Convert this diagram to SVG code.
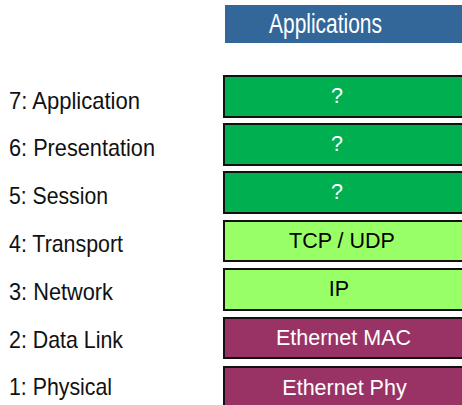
<svg xmlns="http://www.w3.org/2000/svg" width="462" height="405" viewBox="0 0 462 405">
<style>
.lbl{font-family:"Liberation Sans",Arial,sans-serif;font-size:24px;fill:#111}
.box{stroke:#111;stroke-width:2}
.bt{font-family:"Liberation Sans",Arial,sans-serif;font-size:21.5px;text-anchor:middle}
.g1{fill:#00b050}
.g2{fill:#99ff66}
.m{fill:#993366}
.w{fill:#fff}
.k{fill:#000}
</style>
<rect width="462" height="405" fill="#fff"/>
<g id="applications">
<rect x="225" y="5" width="240" height="38" fill="#336699"/>
<text x="269" y="33" font-family="Liberation Sans,Arial,sans-serif" font-size="27" fill="#fff" textLength="113" lengthAdjust="spacingAndGlyphs">Applications</text>
</g>
<g id="labels">
<text class="lbl" x="9" y="108.5" textLength="131" lengthAdjust="spacingAndGlyphs">7: Application</text>
<text class="lbl" x="9" y="156" textLength="146" lengthAdjust="spacingAndGlyphs">6: Presentation</text>
<text class="lbl" x="9" y="204" textLength="99" lengthAdjust="spacingAndGlyphs">5: Session</text>
<text class="lbl" x="9" y="252" textLength="114" lengthAdjust="spacingAndGlyphs">4: Transport</text>
<text class="lbl" x="9" y="300" textLength="104" lengthAdjust="spacingAndGlyphs">3: Network</text>
<text class="lbl" x="9" y="348" textLength="114" lengthAdjust="spacingAndGlyphs">2: Data Link</text>
<text class="lbl" x="9" y="395" textLength="103" lengthAdjust="spacingAndGlyphs">1: Physical</text>
</g>
<g id="layer7"><rect class="box g1" x="224" y="76" width="250" height="41"/><text class="bt w" x="337" y="103" font-size="19">?</text></g>
<g id="layer6"><rect class="box g1" x="224" y="124" width="250" height="41"/><text class="bt w" x="337" y="151" font-size="19">?</text></g>
<g id="layer5"><rect class="box g1" x="224" y="172" width="250" height="41"/><text class="bt w" x="337" y="199" font-size="19">?</text></g>
<g id="layer4"><rect class="box g2" x="224" y="221" width="250" height="40"/><text class="bt k" x="342" y="248">TCP / UDP</text></g>
<g id="layer3"><rect class="box g2" x="224" y="269" width="250" height="41"/><text class="bt k" x="339" y="296">IP</text></g>
<g id="layer2"><rect class="box m" x="224" y="318" width="250" height="40"/><text class="bt w" x="343.5" y="345">Ethernet MAC</text></g>
<g id="layer1"><rect class="box m" x="224" y="367" width="250" height="45"/><text class="bt w" x="344.5" y="395">Ethernet Phy</text></g>
</svg>
